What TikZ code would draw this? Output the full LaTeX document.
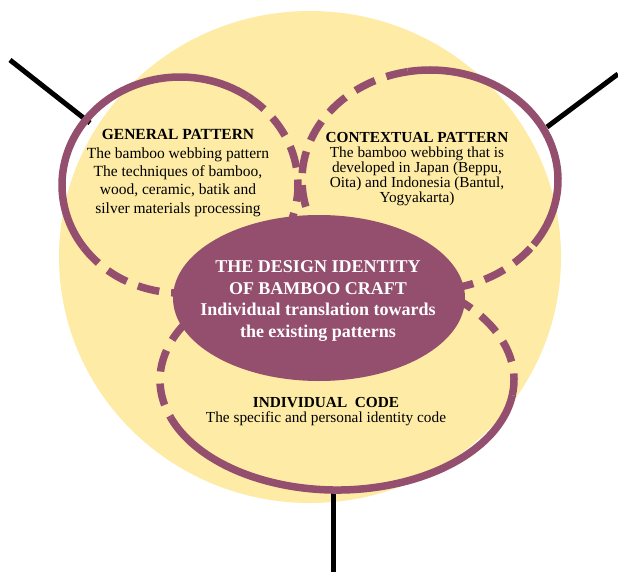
\documentclass[tikz,border=0pt]{standalone}
\usepackage{fontspec}
\setmainfont{Liberation Serif}
\usetikzlibrary{calc,shapes.geometric}
\definecolor{bgyellow}{HTML}{FDEBA6}
\definecolor{plum}{HTML}{944E6E}
\tikzset{
  ring/.style={draw=plum, line width=7.5pt},
  ringdash/.style={draw=plum, line width=7.5pt, dash pattern=on 22pt off 12pt},
  stick/.style={draw=black, line width=5pt},
  lbl/.style={align=center, text=black, inner sep=0pt},
}
\begin{document}
\begin{tikzpicture}[x=1pt,y=-1pt]
\useasboundingbox (0,0) rectangle (618,572);
% big background circle
\fill[bgyellow] (310,257) ellipse [x radius=251pt, y radius=246pt];
% connector ends
\coordinate (gl) at (10,60);
\coordinate (gt) at (90,123);
\coordinate (cr) at (618,74);
\coordinate (ct) at (547,127);
\coordinate (ib) at (333,572);
\coordinate (it) at (333,490);
\draw[stick] (gl) -- (gt);
\draw[stick] (cr) -- (ct);
\draw[stick] (ib) -- (it);
% general pattern ring
\coordinate (G) at (180,185);
\draw[ring] ($(G)+(55:118pt and 108pt)$) arc[start angle=55, end angle=215, x radius=118pt, y radius=108pt];
\draw[ringdash] ($(G)+(215:118pt and 108pt)$) arc[start angle=215, end angle=415, x radius=118pt, y radius=108pt];
% contextual pattern ring
\coordinate (C) at (430,180);
\draw[ring] ($(C)+(-36:128pt and 110pt)$) arc[start angle=-36, end angle=100, x radius=128pt, y radius=110pt];
\draw[ringdash] ($(C)+(100:128pt and 110pt)$) arc[start angle=100, end angle=324, x radius=128pt, y radius=110pt];
% individual code ring
\coordinate (I) at (337,380);
\draw[ring] ($(I)+(200:177pt and 110pt)$) arc[start angle=200, end angle=352, x radius=177pt, y radius=110pt];
\draw[ringdash] ($(I)+(352:177pt and 110pt)$) arc[start angle=352, end angle=560, x radius=177pt, y radius=110pt];
% central ellipse
\node[ellipse, fill=plum, minimum width=292pt, minimum height=166pt, inner sep=0pt] (core) at (319,298) {};
\node[align=center, text=white, inner sep=0pt, font=\bfseries\fontsize{18}{21.7}\selectfont] (coretext) at (318,301)
  {THE DESIGN IDENTITY\\OF BAMBOO CRAFT\\Individual translation towards\\the existing patterns};
% texts
\node[lbl, font=\fontsize{15.5}{18.4}\selectfont] (gen) at (178,173)
  {\textbf{GENERAL PATTERN}\\The bamboo webbing pattern\\The techniques of bamboo,\\wood, ceramic, batik and\\silver materials processing};
\node[lbl, font=\fontsize{15.3}{14.9}\selectfont] (ctx) at (417,169)
  {\textbf{CONTEXTUAL PATTERN}\\The bamboo webbing that is\\developed in Japan (Beppu,\\Oita) and Indonesia (Bantul,\\Yogyakarta)};
\node[lbl, font=\fontsize{15.3}{15}\selectfont] (ind) at (326,412)
  {\textbf{INDIVIDUAL\ \ CODE}\\The specific and personal identity code};
\end{tikzpicture}
\end{document}
